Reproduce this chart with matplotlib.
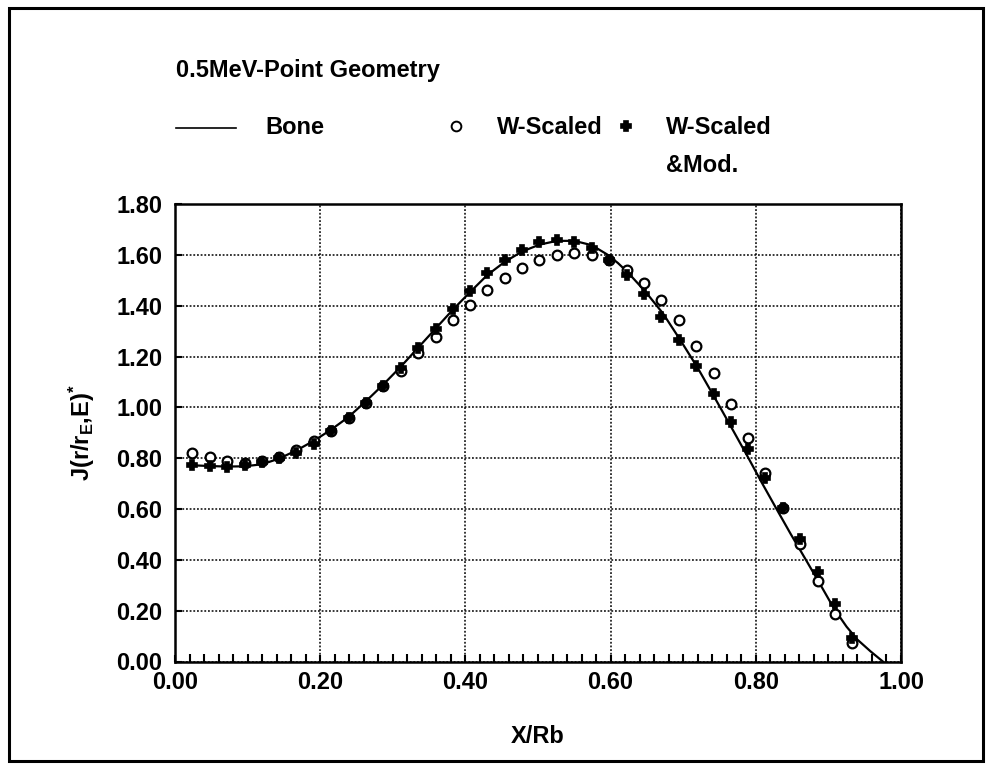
import matplotlib
matplotlib.use('Agg')
import matplotlib.pyplot as plt
from matplotlib.ticker import MultipleLocator

####################################################################################################

plt.rcParams['font.family'] = ['Liberation Sans', 'DejaVu Sans']
plt.rcParams['font.weight'] = 'bold'
plt.rcParams['mathtext.fontset'] = 'custom'
plt.rcParams['mathtext.rm'] = 'Liberation Sans:bold'
plt.rcParams['mathtext.default'] = 'rm'

####################################################################################################

# data

x_points = [0.024, 0.048, 0.072, 0.096, 0.120, 0.143, 0.167, 0.191, 0.215, 0.239,
            0.263, 0.287, 0.311, 0.335, 0.359, 0.383, 0.407, 0.430, 0.454, 0.478,
            0.502, 0.526, 0.550, 0.574, 0.598, 0.622, 0.646, 0.670, 0.694, 0.718,
            0.742, 0.766, 0.789, 0.813, 0.837, 0.861, 0.885, 0.909, 0.933]

w_scaled = [0.822, 0.804, 0.789, 0.782, 0.788, 0.806, 0.833, 0.869, 0.905, 0.957,
            1.016, 1.082, 1.144, 1.213, 1.276, 1.342, 1.404, 1.460, 1.507, 1.550,
            1.581, 1.599, 1.607, 1.600, 1.580, 1.541, 1.491, 1.423, 1.342, 1.243,
            1.135, 1.013, 0.879, 0.743, 0.603, 0.461, 0.318, 0.187, 0.072]

w_scaled_mod = [0.772, 0.770, 0.767, 0.772, 0.786, 0.800, 0.820, 0.856, 0.905, 0.957,
                1.016, 1.082, 1.154, 1.233, 1.310, 1.388, 1.459, 1.528, 1.578, 1.620,
                1.649, 1.657, 1.649, 1.627, 1.578, 1.519, 1.446, 1.357, 1.266, 1.161,
                1.053, 0.944, 0.835, 0.721, 0.603, 0.481, 0.354, 0.226, 0.091]

x_bone = [0.024, 0.048, 0.072, 0.096, 0.120, 0.143, 0.167, 0.191, 0.215, 0.239,
          0.263, 0.287, 0.311, 0.335, 0.359, 0.383, 0.407, 0.430, 0.454, 0.478,
          0.502, 0.526, 0.550, 0.574, 0.595, 0.610, 0.624, 0.648, 0.672, 0.696,
          0.720, 0.743, 0.767, 0.789, 0.808, 0.828, 0.848, 0.869, 0.889, 0.908,
          0.925, 0.940, 0.958, 0.975]

y_bone = [0.772, 0.769, 0.767, 0.768, 0.776, 0.798, 0.830, 0.868, 0.912, 0.962,
          1.024, 1.090, 1.160, 1.235, 1.310, 1.385, 1.455, 1.520, 1.572, 1.613,
          1.640, 1.655, 1.655, 1.638, 1.602, 1.568, 1.530, 1.455, 1.370, 1.265,
          1.155, 1.040, 0.918, 0.805, 0.705, 0.603, 0.502, 0.400, 0.302, 0.207,
          0.137, 0.086, 0.040, 0.000]

x_ticks = [0.0, 0.2, 0.4, 0.6, 0.8, 1.0]
y_ticks = [0.0, 0.2, 0.4, 0.6, 0.8, 1.0, 1.2, 1.4, 1.6, 1.8]

####################################################################################################

W, H = 990, 767
FS = 17
figure = plt.figure(figsize=(W / 100, H / 100), dpi=100)

def fx(px):
    return px / W

def fy(py):
    return 1 - py / H

ax = figure.add_axes([fx(175), fy(661.5), fx(901) - fx(175), fy(204) - fy(661.5)])

ax.plot(x_bone, y_bone, color='black', lw=1.6, zorder=3)
ax.plot(x_points, w_scaled, ls='none', marker='o', ms=7, mfc='white', mec='black',
        mew=1.6, zorder=4)
ax.plot(x_points, w_scaled_mod, ls='none', marker='P', ms=7, mfc='black', mec='black',
        mew=1.2, zorder=5)

ax.set_xlim(0, 1.0)
ax.set_ylim(0, 1.8)
ax.set_xticks(x_ticks)
ax.set_yticks(y_ticks)
ax.set_xticklabels(['%.2f' % v for v in x_ticks])
ax.set_yticklabels(['%.2f' % v for v in y_ticks])
ax.xaxis.set_minor_locator(MultipleLocator(0.02))
ax.tick_params(axis='both', which='major', direction='in', length=5, width=1.5,
               labelsize=FS, pad=9)
ax.tick_params(axis='x', which='major', pad=7)
ax.tick_params(axis='x', which='minor', direction='in', length=6, width=1.5)
ax.tick_params(axis='y', which='minor', left=False)
ax.grid(True, which='major', color='black', lw=1.1, ls=(0, (1.2, 1.2)))
for spine in ax.spines.values():
    spine.set_linewidth(1.8)

ax.set_xlabel('X/Rb', fontsize=FS, fontweight='bold', labelpad=22)
ax.set_ylabel('J(r/r$_{E}$,E)$^{*}$', fontsize=FS, fontweight='bold', labelpad=14)

# header and legend written as plain figure text
figure.text(fx(176), fy(70), '0.5MeV-Point Geometry', fontsize=FS, fontweight='bold',
            va='center', ha='left')
figure.add_artist(plt.Line2D([fx(176), fx(236)], [fy(128), fy(128)], color='black', lw=1.2))
figure.text(fx(265), fy(128), 'Bone', fontsize=FS, fontweight='bold', va='center')
figure.add_artist(plt.Line2D([fx(456)], [fy(126)], marker='o', ms=7, mfc='white',
                             mec='black', mew=1.4, ls='none'))
figure.text(fx(497), fy(128), 'W-Scaled', fontsize=FS, fontweight='bold', va='center')
figure.add_artist(plt.Line2D([fx(626)], [fy(126)], marker='P', ms=7, mfc='black',
                             mec='black', mew=1.2, ls='none'))
figure.text(fx(666), fy(128), 'W-Scaled', fontsize=FS, fontweight='bold', va='center')
figure.text(fx(666), fy(166), '&Mod.', fontsize=FS, fontweight='bold', va='center')

# outer frame
figure.add_artist(plt.Rectangle((fx(9), fy(761)), fx(983) - fx(9), fy(8) - fy(761),
                                fill=False, ec='black', lw=2.2))

figure.savefig('out.png', dpi=100)
